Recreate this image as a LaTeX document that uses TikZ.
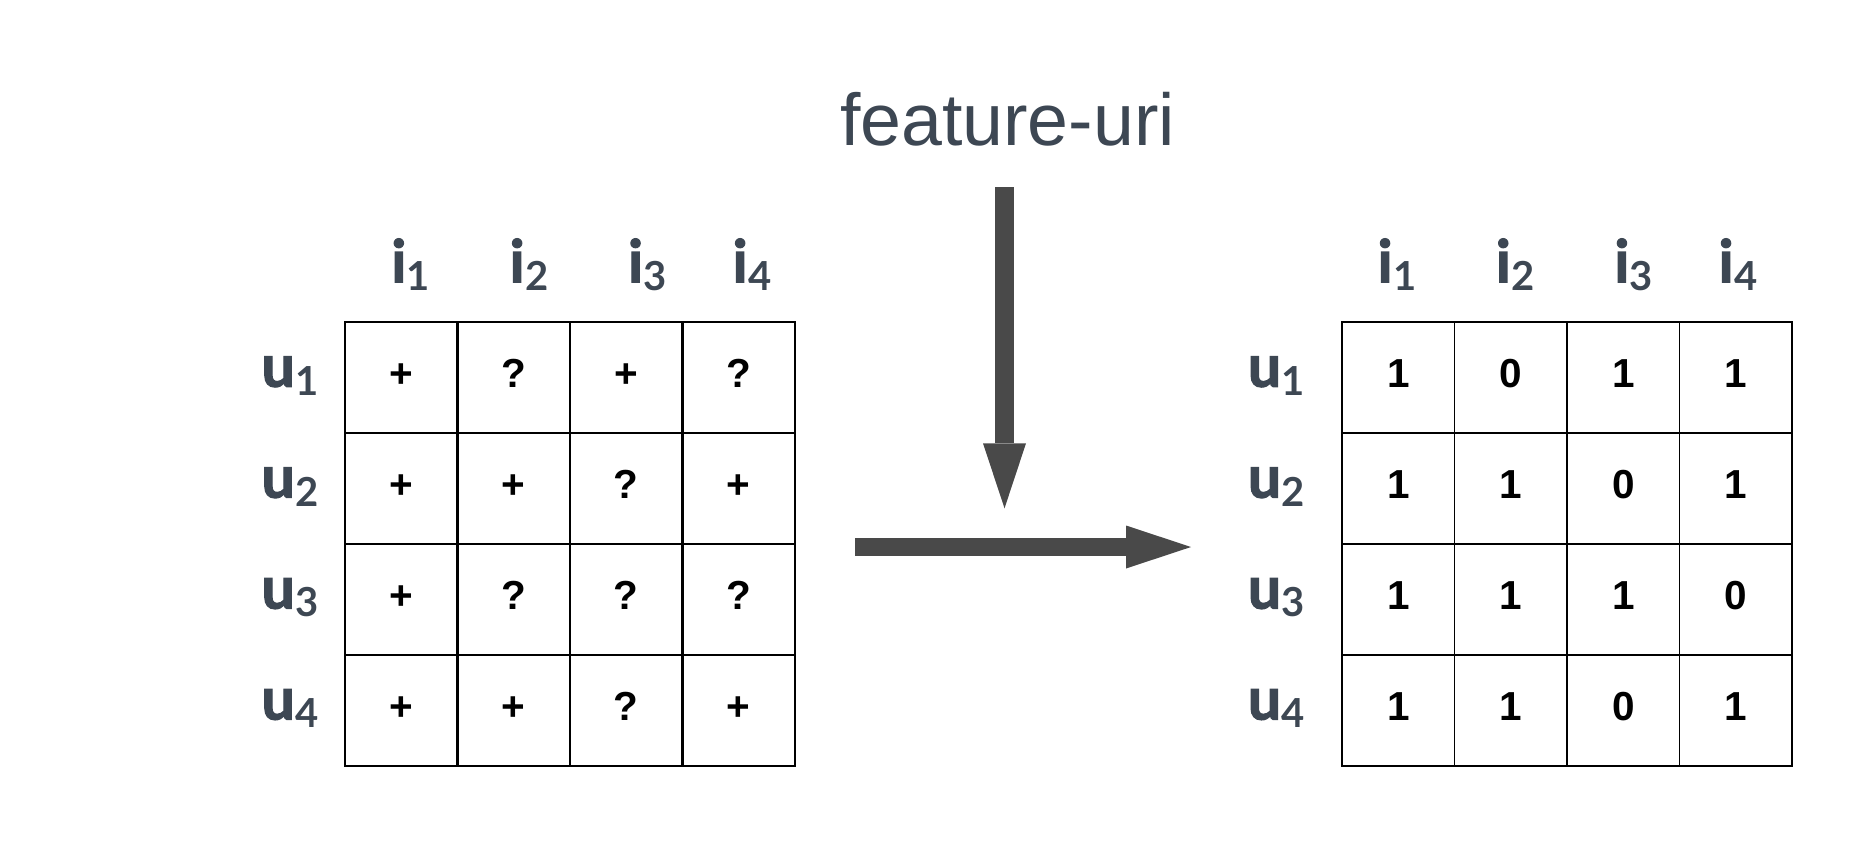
\documentclass[tikz,border=0pt]{standalone}
\usepackage{fontspec}
\setmainfont{Liberation Sans}
\newfontfamily\lato{Lato}
\newfontfamily\latoheavy{Lato}[BoldFeatures={FakeBold=2}]
\usetikzlibrary{arrows.meta}
\definecolor{lbl}{RGB}{61,71,83}
\definecolor{arr}{RGB}{73,73,73}
\newcommand\lsub[1]{\kern0.5pt{\lato\fontsize{40}{40}\selectfont\bfseries\raisebox{-8.4pt}{#1}}}
\begin{document}
\begin{tikzpicture}[x=1pt,y=-1pt,
  cell/.style={anchor=base,inner sep=0pt,font=\fontsize{40.5}{40.5}\selectfont\bfseries},
  lab/.style={anchor=base,inner sep=0pt,text=lbl,font=\latoheavy\fontsize{59}{59}\selectfont\bfseries},
  title/.style={anchor=base,inner sep=0pt,text=lbl,font=\fontsize{73.5}{73.5}\selectfont},
  thickline/.style={line width=2.3pt,line cap=rect},
  thinline/.style={line width=1.2pt},
  bigarrow/.style={draw=arr,line width=#1,-{Triangle[length=65pt,width=43pt,line width=0pt 0]}},
]
\useasboundingbox (0,0) rectangle (1868,846);

% title
\node[title] (title) at (1007.5,145) {feature-uri};

% left grid
\draw[thickline] (345,322) rectangle (795,765.7);
\foreach \k in {1,2,3} {
  \draw[thickline] ({345+112.5*\k},322) -- ({345+112.5*\k},765.7);
  \draw[thickline] (345,{322+110.925*\k}) -- (795,{322+110.925*\k});
}
% right grid
\draw[thickline] (1342,322) rectangle (1792,765.7);
\foreach \k in {1,2,3} {
  \draw[thinline] ({1342+112.5*\k},322) -- ({1342+112.5*\k},765.7);
  \draw[thickline] (1342,{322+110.925*\k}) -- (1792,{322+110.925*\k});
}

% column labels
\foreach \x/\n in {410.7/1,529/2,647.4/3,752/4} {
  \node[lab] (Li\n) at (\x,282.3) {i\lsub{\n}};
}
\foreach \x/\n in {1396.9/1,1515.1/2,1633.8/3,1737.9/4} {
  \node[lab] (Ri\n) at (\x,282.3) {i\lsub{\n}};
}
% row labels
\foreach \r in {1,2,3,4} {
  \node[lab] (Lu\r) at (290,{322+110.925*(\r-1)+64.7}) {u\lsub{\r}};
  \node[lab] (Ru\r) at (1276.3,{322+110.925*(\r-1)+64.7}) {u\lsub{\r}};
}

% left cell entries
\foreach \r/\a/\b/\c/\d in {1/+/?/+/?, 2/+/+/?/+, 3/+/?/?/?, 4/+/+/?/+} {
  \node[cell] (L\r1) at (401.25,{322+110.925*(\r-1)+65.3}) {\a};
  \node[cell] (L\r2) at (513.75,{322+110.925*(\r-1)+65.3}) {\b};
  \node[cell] (L\r3) at (626.25,{322+110.925*(\r-1)+65.3}) {\c};
  \node[cell] (L\r4) at (738.75,{322+110.925*(\r-1)+65.3}) {\d};
}
% right cell entries
\foreach \r/\a/\b/\c/\d in {1/1/0/1/1, 2/1/1/0/1, 3/1/1/1/0, 4/1/1/0/1} {
  \node[cell] (R\r1) at (1398.25,{322+110.925*(\r-1)+65.3}) {\a};
  \node[cell] (R\r2) at (1510.75,{322+110.925*(\r-1)+65.3}) {\b};
  \node[cell] (R\r3) at (1623.25,{322+110.925*(\r-1)+65.3}) {\c};
  \node[cell] (R\r4) at (1735.75,{322+110.925*(\r-1)+65.3}) {\d};
}

% arrows
\coordinate (v0) at (1004.5,187.3);
\coordinate (v1) at (1004.5,508.3);
\coordinate (h0) at (855,547);
\coordinate (h1) at (1191,547);
\draw[bigarrow=19pt] (v0) -- (v1);
\draw[bigarrow=17.4pt] (h0) -- (h1);
\end{tikzpicture}
\end{document}
